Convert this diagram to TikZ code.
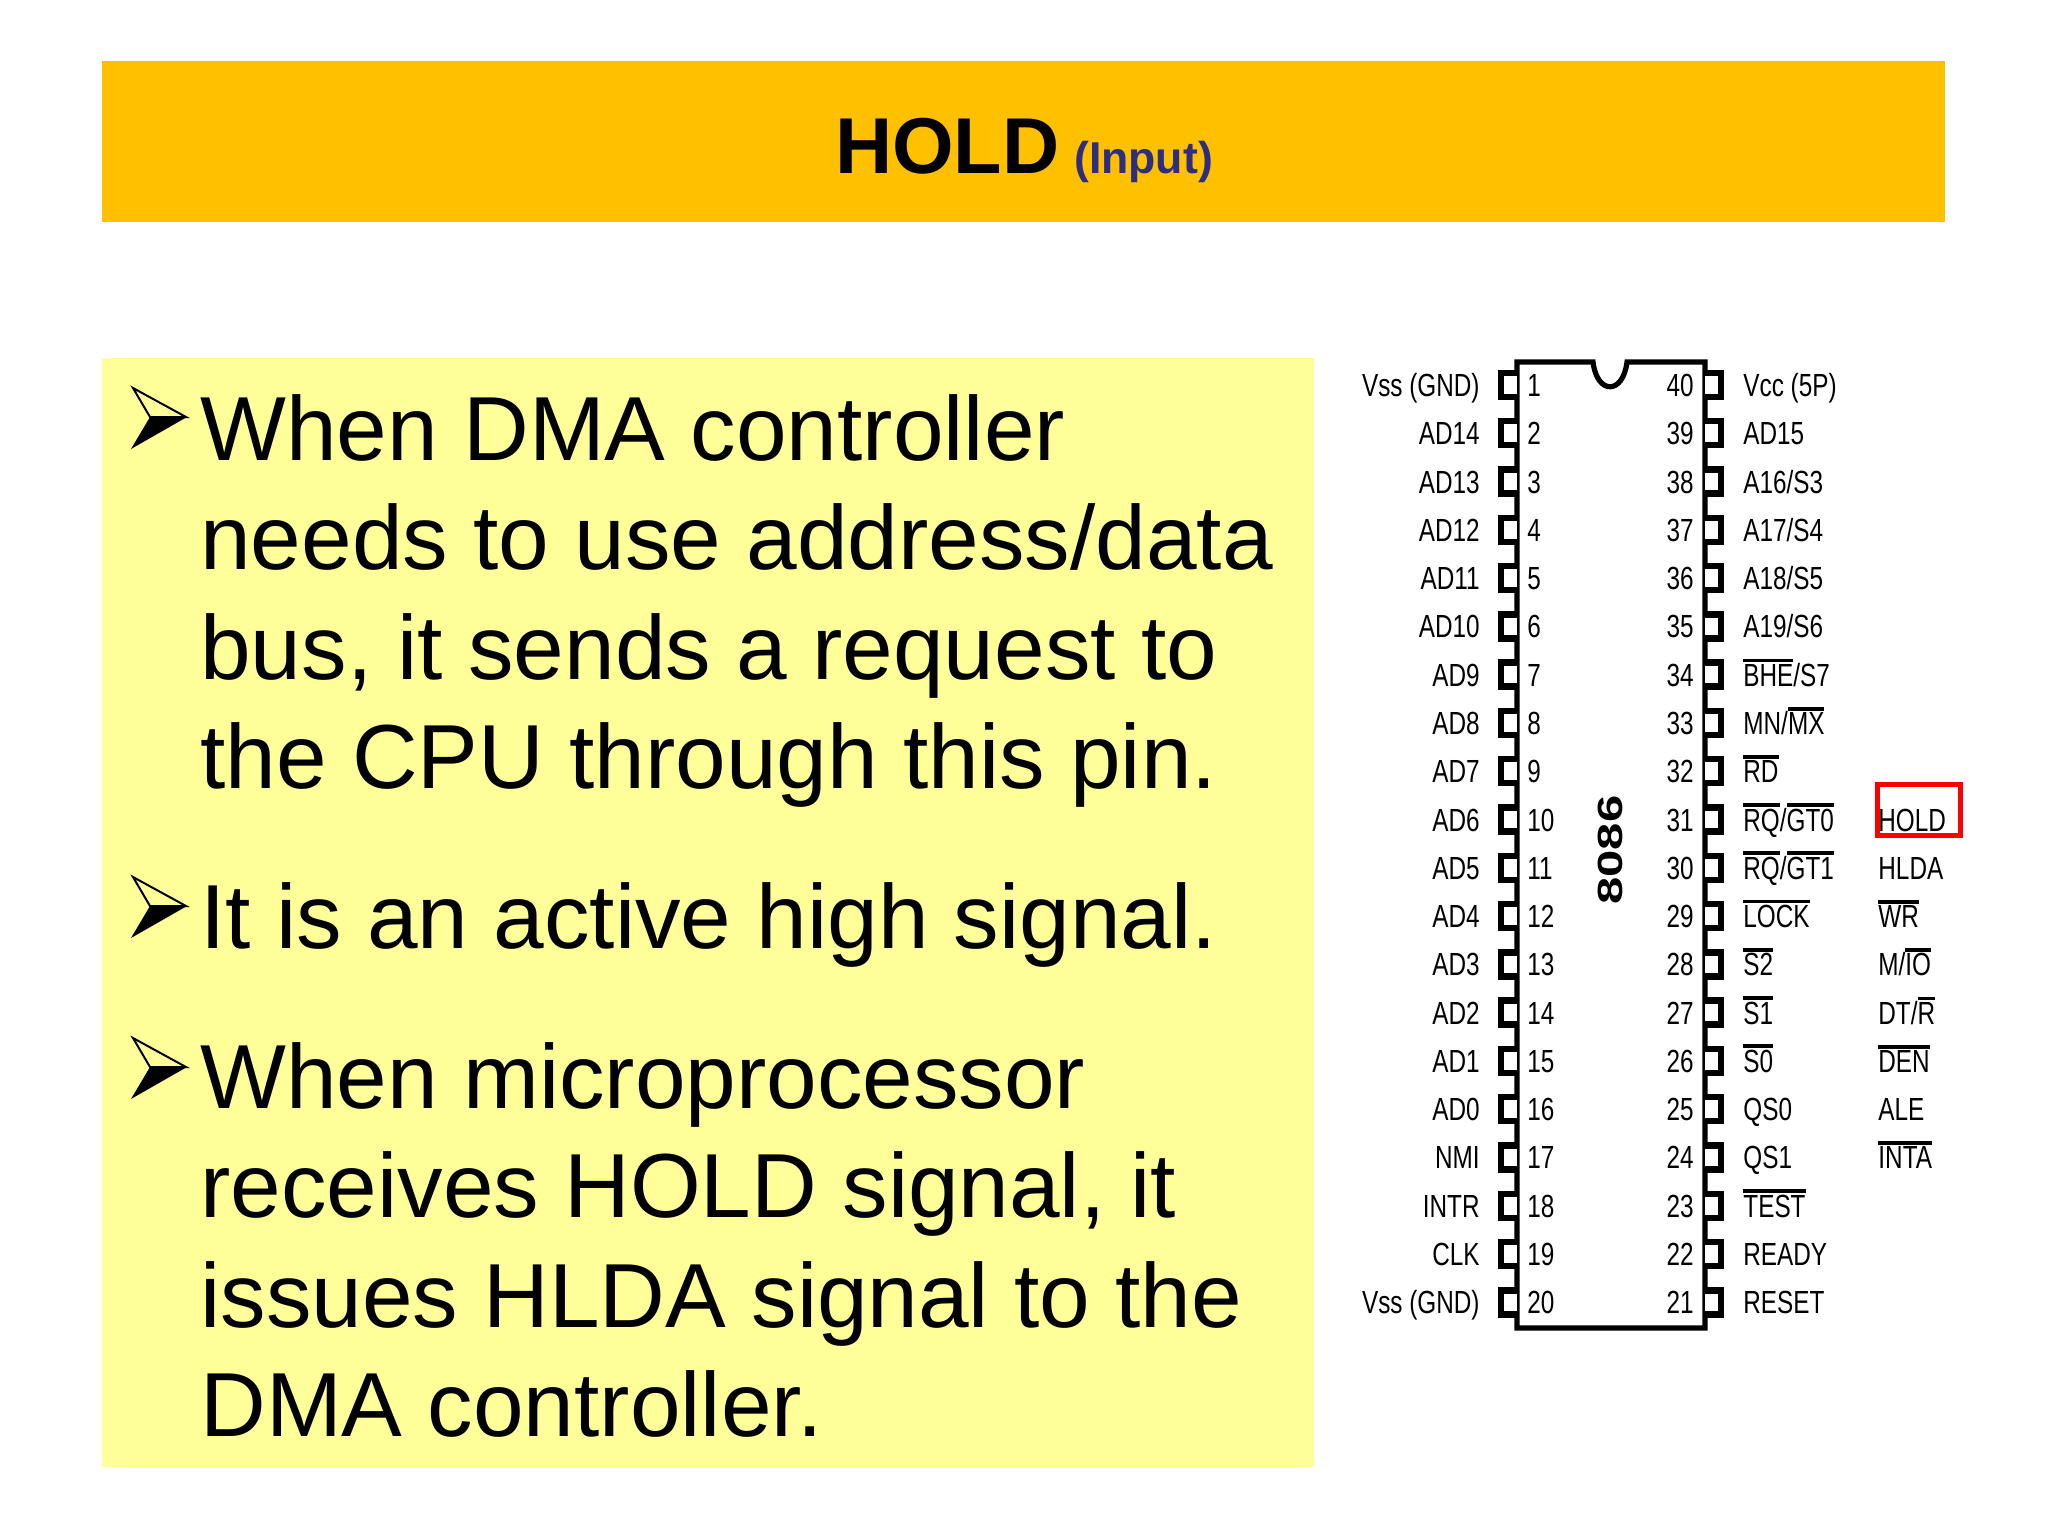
\documentclass[tikz,border=0pt]{standalone}
\usepackage{fontspec}
\setmainfont{Liberation Sans}
\newfontfamily\pinfont[FakeStretch=0.76]{Liberation Sans}
\newfontfamily\chipfont[FakeStretch=1.4]{Liberation Sans}
\definecolor{titlebar}{HTML}{FFC000}
\definecolor{panel}{HTML}{FFFF99}
\definecolor{inputblue}{HTML}{2E2E80}
\newcommand\ovl[1]{\leavevmode\vbox{\hrule height 1.9pt\kern 0.9pt\hbox{#1}}}
\tikzset{
  x=0.5pt,y=-0.5pt,
  bodytext/.style={anchor=base west,inner sep=0pt,font=\fontsize{45.5}{54}\selectfont,text=black},
  pinlabel/.style={inner sep=0pt,font=\pinfont\fontsize{16}{18}\selectfont,text=black},
  lefttext/.style={pinlabel,anchor=base east},
  righttext/.style={pinlabel,anchor=base west},
  pinbox/.style={draw=black,line width=3.2pt,fill=white},
}
\begin{document}
\begin{tikzpicture}
\useasboundingbox (0,0) rectangle (2048,1536);
\fill[white] (0,0) rectangle (2048,1536);
\fill[titlebar] (102,61) rectangle (1945,222);
\fill[panel] (102,358) rectangle (1314,1467);
\node[anchor=base,inner sep=0pt] (title) at (1024,173)
  {\fontsize{39.6}{48}\selectfont\bfseries HOLD\hspace{7.3pt}{\fontsize{22.3}{28}\selectfont\color{inputblue}(Input)}};
% body text
\node[bodytext] (l1) at (200,460) {When DMA controller};
\node[bodytext] (l2) at (200,569) {needs to use address/data};
\node[bodytext] (l3) at (200,679) {bus, it sends a request to};
\node[bodytext] (l4) at (200,788) {the CPU through this pin.};
\node[bodytext] (l5) at (200,948) {It is an active high signal.};
\node[bodytext] (l6) at (200,1108) {When microprocessor};
\node[bodytext] (l7) at (200,1217) {receives HOLD signal, it};
\node[bodytext] (l8) at (200,1327) {issues HLDA signal to the};
\node[bodytext] (l9) at (200,1436) {DMA controller.};
% bullets
\foreach \by in {417,906,1067}{
  \fill[black] (187,\by) -- (150,\by) -- (131,\by+32) -- cycle;
  \draw[black,line width=1pt,line join=miter] (186,\by) -- (133,\by-29) -- (150,\by) -- cycle;
}
% chip body
\draw[black,line width=2.6pt,fill=white,line join=miter]
  (1517,362) -- (1593,362) .. controls (1597,395) and (1623,395) .. (1627,362)
  -- (1705,362) -- (1705,1328) -- (1517,1328) -- cycle;
\node[inner sep=0pt,rotate=90,font=\chipfont\bfseries\fontsize{17.5}{20}\selectfont] (chip) at (1610,850) {8086};
% pins, left
\foreach \n/\lab in {1/Vss (GND),2/AD14,3/AD13,4/AD12,5/AD11,6/AD10,7/AD9,8/AD8,9/AD7,10/AD6,11/AD5,12/AD4,13/AD3,14/AD2,15/AD1,16/AD0,17/NMI,18/INTR,19/CLK,20/Vss (GND)}{
  \pgfmathsetmacro\py{385+48.28*(\n-1)}
  \draw[pinbox] (1517,\py-12) -- (1501,\py-12) -- (1501,\py+12) -- (1517,\py+12);
  \node[lefttext] (ll\n) at (1480,\py+11.5) {\lab};
  \node[righttext] (ln\n) at (1527,\py+11.5) {\n};
}
% pins, right
\foreach \n/\lab in {40/Vcc (5P),39/AD15,38/A16\slash S3,37/A17\slash S4,36/A18\slash S5,35/A19\slash S6,34/\ovl{BHE}\slash S7,33/MN\slash\ovl{MX},32/\ovl{RD},31/\ovl{RQ}\slash\ovl{GT0},30/\ovl{RQ}\slash\ovl{GT1},29/\ovl{LOCK},28/\ovl{S2},27/\ovl{S1},26/\ovl{S0},25/QS0,24/QS1,23/\ovl{TEST},22/READY,21/RESET}{
  \pgfmathsetmacro\py{385+48.28*(40-\n)}
  \draw[pinbox] (1705,\py-12) -- (1721,\py-12) -- (1721,\py+12) -- (1705,\py+12);
  \node[lefttext] (rn\n) at (1694,\py+11.5) {\n};
  \node[righttext] (rl\n) at (1743,\py+11.5) {\lab};
}
% maximum-mode column
\foreach \n/\lab in {31/HOLD,30/HLDA,29/\ovl{WR},28/M\slash\ovl{IO},27/DT\slash\ovl{R},26/\ovl{DEN},25/ALE,24/\ovl{INTA}}{
  \pgfmathsetmacro\py{385+48.28*(40-\n)}
  \node[righttext] (mx\n) at (1878,\py+11.5) {\lab};
}
\draw[red,line width=2.5pt] (1877.5,784.5) rectangle (1960,835.5);
\end{tikzpicture}
\end{document}
